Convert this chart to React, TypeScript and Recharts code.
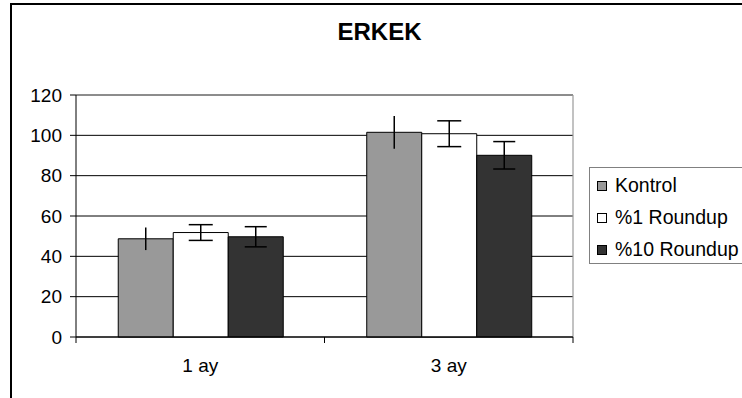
import React from "react";
import {
  BarChart,
  Bar,
  XAxis,
  YAxis,
  CartesianGrid,
  ErrorBar,
  Legend,
} from "recharts";

const categories = ["1 ay", "3 ay"];
const seriesNames = ["Kontrol", "%1 Roundup", "%10 Roundup"];
const kontrol = [48.7, 101.5];
const kontrolErr = [5.6, 8.1];
const roundup1 = [51.8, 100.8];
const roundup1Err = [3.9, 6.4];
const roundup10 = [49.7, 90.1];
const roundup10Err = [5.0, 6.8];
const yTicks = [0, 20, 40, 60, 80, 100, 120];
const title = "ERKEK";

const colors = ["#999999", "#FFFFFF", "#333333"];
const FONT = "'Liberation Sans', Arial, sans-serif";

const data = categories.map((c, i) => ({
  name: c,
  k: kontrol[i],
  kErr: kontrolErr[i],
  r1: roundup1[i],
  r1Err: roundup1Err[i],
  r10: roundup10[i],
  r10Err: roundup10Err[i],
}));

const XTick = (props: any) => {
  const { x, y, payload, index } = props;
  const half = payload && typeof payload.offset === "number" && payload.offset > 0 ? payload.offset : 124;
  const last = index === categories.length - 1;
  return (
    <g>
      <line x1={x - half} y1={y} x2={x - half} y2={y + 6} stroke="#000" strokeWidth={1} />
      {last && <line x1={x + half} y1={y} x2={x + half} y2={y + 6} stroke="#000" strokeWidth={1} />}
      <text x={x} y={y + 22} dy="0.71em" textAnchor="middle" fill="#000" fontSize={19} fontFamily={FONT}>
        {payload.value}
      </text>
    </g>
  );
};

const LegendBox = () => (
  <div
    style={{
      width: 180,
      height: 97,
      border: "1px solid #808080",
      boxSizing: "border-box",
      background: "#fff",
      position: "relative",
      fontFamily: FONT,
      fontSize: 19.5,
    }}
  >
    {seriesNames.map((n, i) => (
      <div key={n} style={{ position: "absolute", left: 0, top: 1 + i * 32, height: 32, width: 180 }}>
        <div
          style={{
            position: "absolute",
            left: 7,
            top: 12,
            width: 10,
            height: 10,
            boxSizing: "border-box",
            border: "1px solid #000",
            background: colors[i],
          }}
        />
        <div style={{ position: "absolute", left: 25, top: 0, lineHeight: "32px", whiteSpace: "nowrap", color: "#000" }}>
          {n}
        </div>
      </div>
    ))}
  </div>
);

export default function App() {
  return (
    <div
      style={{
        position: "fixed",
        left: 0,
        top: 0,
        width: 742,
        height: 398,
        overflow: "hidden",
        background: "#fff",
      }}
    >
      <div
        style={{
          position: "absolute",
          left: 10,
          top: 3,
          width: 800,
          height: 500,
          border: "2px solid #000",
        }}
      />
      <div
        style={{
          position: "absolute",
          left: 279.5,
          top: 20.4,
          width: 200,
          textAlign: "center",
          fontFamily: FONT,
          fontWeight: "bold",
          fontSize: 24,
          lineHeight: "24px",
          color: "#000",
        }}
      >
        {title}
      </div>
      <div style={{ position: "absolute", left: 0, top: 0 }}>
        <BarChart
          width={742}
          height={398}
          data={data}
          margin={{ top: 95, right: 169, bottom: 21, left: 0 }}
          barCategoryGap="17%"
          barGap={0}
        >
          <CartesianGrid vertical={false} stroke="#000" strokeWidth={1} />
          <CartesianGrid
            stroke="#999"
            strokeWidth={1.2}
            horizontalCoordinatesGenerator={(p: any) => [p.offset.top]}
            verticalCoordinatesGenerator={(p: any) => [p.offset.left + p.offset.width]}
          />
          <XAxis
            dataKey="name"
            height={40}
            interval={0}
            tickLine={false}
            tickSize={0}
            tickMargin={0}
            axisLine={{ stroke: "#000" }}
            tick={<XTick />}
          />
          <YAxis
            domain={[0, 120]}
            ticks={yTicks}
            width={76}
            tickSize={6}
            tickMargin={8}
            tickLine={{ stroke: "#000" }}
            axisLine={{ stroke: "#000" }}
            tick={{ fill: "#000", fontSize: 19, fontFamily: FONT }}
          />
          <Legend
            layout="vertical"
            align="center"
            verticalAlign="middle"
            wrapperStyle={{ left: 589, top: 167, width: 180 }}
            content={() => <LegendBox />}
          />
          <Bar dataKey="k" name={seriesNames[0]} fill={colors[0]} stroke="#000" strokeWidth={1} isAnimationActive={false}>
            <ErrorBar dataKey="kErr" width={0} stroke="#000" strokeWidth={1.5} />
          </Bar>
          <Bar dataKey="r1" name={seriesNames[1]} fill={colors[1]} stroke="#000" strokeWidth={1} isAnimationActive={false}>
            <ErrorBar dataKey="r1Err" width={12} stroke="#000" strokeWidth={1.5} />
          </Bar>
          <Bar dataKey="r10" name={seriesNames[2]} fill={colors[2]} stroke="#000" strokeWidth={1} isAnimationActive={false}>
            <ErrorBar dataKey="r10Err" width={11} stroke="#000" strokeWidth={1.5} />
          </Bar>
        </BarChart>
      </div>
    </div>
  );
}
